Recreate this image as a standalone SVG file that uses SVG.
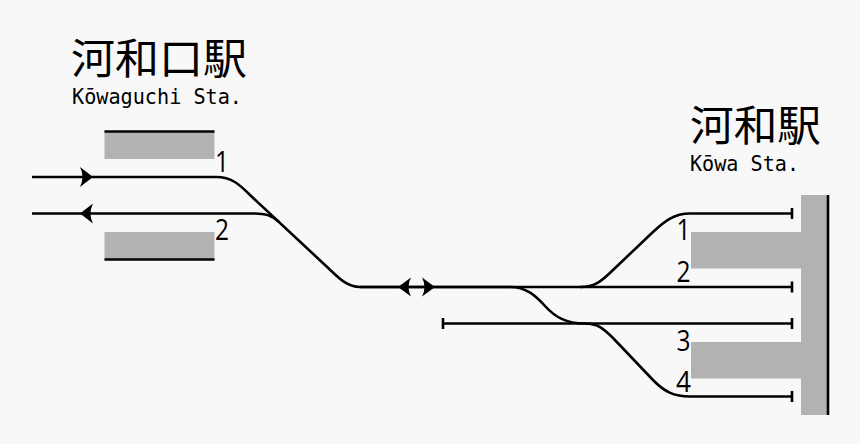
<svg xmlns="http://www.w3.org/2000/svg" width="860" height="444" viewBox="0 0 860 444">
<style>
.t{fill:none;stroke:#000;stroke-width:2.6}
.s{fill:none;stroke:#000;stroke-width:2.6}
.p{fill:#b2b2b2}
.j{font-family:"Noto Sans CJK JP","Noto Sans",sans-serif;font-size:42px;fill:#000}
.l{font-family:"DejaVu Sans Mono","Liberation Mono",monospace;font-size:22px;fill:#000}
.n{font-family:"Open Sans","Noto Sans",sans-serif;font-size:30px;fill:#000}
.a{fill:#000}
</style>
<rect width="860" height="444" fill="#f8f8f8"/>
<g id="kowaguchi-station">
<text class="j" x="71" y="74" textLength="176" lengthAdjust="spacingAndGlyphs">河和口駅</text>
<text class="l" x="72" y="104" textLength="170" lengthAdjust="spacingAndGlyphs">Kōwaguchi Sta.</text>
</g>
<g id="kowaguchi-platform-1">
<rect class="p" x="104.500" y="131" width="110" height="28"/>
<path class="s" d="M104.500 131.500H214.500"/>
<text class="n" x="215" y="172" textLength="14" lengthAdjust="spacingAndGlyphs">1</text>
</g>
<g id="kowaguchi-platform-2">
<rect class="p" x="104.500" y="232" width="110" height="28"/>
<path class="s" d="M104.500 259.500H214.500"/>
<text class="n" x="215" y="240" textLength="14" lengthAdjust="spacingAndGlyphs">2</text>
</g>
<g id="kowa-station">
<text class="j" x="690" y="141" textLength="131" lengthAdjust="spacingAndGlyphs">河和駅</text>
<text class="l" x="690" y="171" textLength="109" lengthAdjust="spacingAndGlyphs">Kōwa Sta.</text>
</g>
<g id="kowa-platforms">
<path class="p" d="M801 195H829V415H801V378.500H691V342H801V268.500H691V232H801Z"/>
<path class="s" d="M828 195V415"/>
<text class="n" x="676.500" y="240" textLength="14" lengthAdjust="spacingAndGlyphs">1</text>
<text class="n" x="676.500" y="282" textLength="14" lengthAdjust="spacingAndGlyphs">2</text>
<text class="n" x="676.500" y="351" textLength="14" lengthAdjust="spacingAndGlyphs">3</text>
<text class="n" x="676" y="392" textLength="15" lengthAdjust="spacingAndGlyphs">4</text>
</g>
<g id="connectors">
<path class="t" d="M32 177H216C232 177 240 185 250 195L325 265C338 277 346 287 360 287H510C526 287 535 295 545 306C555 317 566 323.500 585 323.500"/>
<path class="t" d="M32 213.500H255C265 213.500 271 215 279 222"/>
<path class="t" d="M360 287H792M792 281.500V292.500"/>
<path class="t" d="M580 287C596 287 603 279.500 613 270L653 232C664 221.500 674 213.500 690 213.500H792M792 208V219"/>
<path class="t" d="M443 323.500H792M443 318V329M792 318V329"/>
<path class="t" d="M585 323.500C598 323.500 604 329 613 338L653 380C664 391.500 674 396.500 690 396.500H792M792 391V402"/>
<path class="a" d="M93 177L80 167Q85 177 80 187Z"/>
<path class="a" d="M80 213.500L93 203.500Q88 213.500 93 223.500Z"/>
<path class="a" d="M398 287L411 277.500Q406 287 411 296.500Z"/>
<path class="a" d="M435 287L422 277.500Q427 287 422 296.500Z"/>
</g>
</svg>
